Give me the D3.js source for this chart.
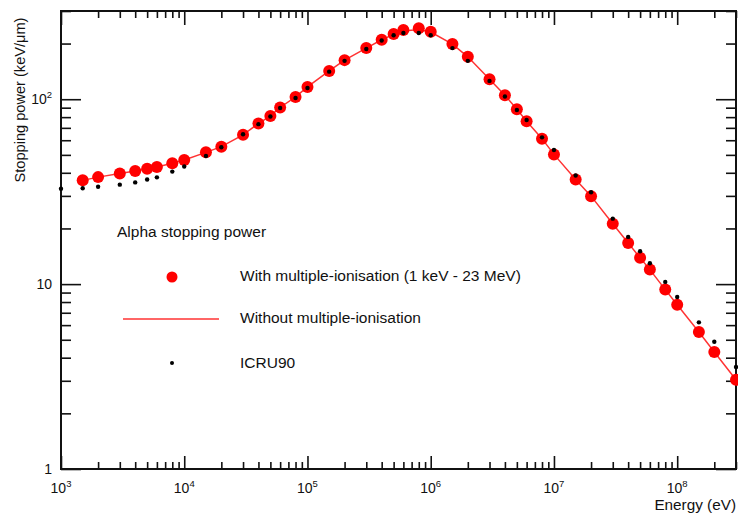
<!DOCTYPE html>
<html><head><meta charset="utf-8">
<script src="https://cdn.jsdelivr.net/npm/d3@7"></script>
<style>
body{margin:0;background:#fff;}
text{font-family:"Liberation Sans",Arial,Helvetica,sans-serif;fill:#111;}
</style></head>
<body><svg id="c" width="738" height="516"></svg>
<script>
// ---- data ----
const energies = [1.5e3,2e3,3e3,4e3,5e3,6e3,8e3,1e4,1.5e4,2e4,3e4,4e4,5e4,6e4,8e4,1e5,1.5e5,2e5,3e5,4e5,5e5,6e5,8e5,1e6,1.5e6,2e6,3e6,4e6,5e6,6e6,8e6,1e7,1.5e7,2e7,3e7,4e7,5e7,6e7,8e7,1e8,1.5e8,2e8,3e8];
const withMI = [36.4,37.9,39.6,40.9,42.1,43.0,45.0,46.9,51.6,55.4,64.2,73.9,81.2,90.2,102.9,116.6,142.3,162.7,189,209.6,225,237,242,232,198.7,169.6,128.3,105.1,88.3,76.0,61.2,50.3,36.8,29.9,21.2,16.7,13.87,11.98,9.34,7.74,5.51,4.29,3.04];
const withoutMI = [36.4,37.9,39.6,40.9,42.1,43.0,45.0,46.9,51.6,55.4,64.2,73.9,81.2,90.2,102.9,116.6,142.3,162.7,189,209.6,224,234,238,231,198.7,169.6,128.3,105.1,88.3,76.0,61.2,50.3,36.8,29.9,21.2,16.7,13.87,11.98,9.34,7.74,5.51,4.29,3.04];
const icruEnergies = [1e3,1.5e3,2e3,3e3,4e3,5e3,6e3,8e3,1e4,1.5e4,2e4,3e4,4e4,5e4,6e4,8e4,1e5,1.5e5,2e5,3e5,4e5,5e5,6e5,8e5,1e6,1.5e6,2e6,3e6,4e6,5e6,6e6,8e6,1e7,1.5e7,2e7,3e7,4e7,5e7,6e7,8e7,1e8,1.5e8,2e8,3e8];
const icru90 = [32.8,33.0,33.6,34.5,35.5,36.8,37.8,40.6,43.3,49.3,55.0,64.6,73.3,80.6,89.6,101.6,115,141,161.3,187,207.6,222,228,228,222,189,161.3,125.6,103.4,87.5,77.2,62.2,53.1,38.7,31.4,22.6,18.0,15.06,12.96,10.28,8.52,6.21,4.88,3.56];
const xMajorTicks = [1e3,1e4,1e5,1e6,1e7,1e8];
const xTickExps = ["3","4","5","6","7","8"];
const yMajorTicks = [1,10,100];
const yTickBase = ["1","10","10"];
const yTickExps = ["","","2"];
const legendTitle = "Alpha stopping power";
const legendLabels = ["With multiple-ionisation (1 keV - 23 MeV)","Without multiple-ionisation","ICRU90"];
const xTitle = "Energy (eV)";
const yTitle = "Stopping power (keV/\u03bcm)";

// ---- layout ----
const L=61,R=736,T=11,B=469;
const svg=d3.select("#c");
const x=d3.scaleLog().domain([1e3,3e8]).range([L,R]);
const y=d3.scaleLog().domain([1,300]).range([B,T]);

const minorX=[];for(let d=1e3;d<3e8;d*=10)for(let k=2;k<=9;k++){if(d*k<=3e8)minorX.push(d*k);}
const minorY=[];for(let d=1;d<300;d*=10)for(let k=2;k<=9;k++){if(d*k<=300)minorY.push(d*k);}

function axis(gen,vals,size,tr){
  const g=svg.append("g").attr("transform",tr).call(gen.tickValues(vals).tickSize(size).tickFormat(""));
  g.select(".domain").remove();
  g.selectAll("line").attr("stroke","#111").attr("stroke-width",1.6);
  return g;
}
axis(d3.axisBottom(x),xMajorTicks,-13,`translate(0,${B})`);
axis(d3.axisBottom(x),minorX,-7,`translate(0,${B})`);
axis(d3.axisTop(x),xMajorTicks,-14,`translate(0,${T})`);
axis(d3.axisTop(x),minorX,-7,`translate(0,${T})`);
axis(d3.axisLeft(y),yMajorTicks,-20,`translate(${L},0)`);
axis(d3.axisLeft(y),minorY,-10,`translate(${L},0)`);
axis(d3.axisRight(y),yMajorTicks,-20,`translate(${R},0)`);
axis(d3.axisRight(y),minorY,-10,`translate(${R},0)`);

svg.append("rect").attr("x",L).attr("y",T).attr("width",R-L).attr("height",B-T)
  .attr("fill","none").attr("stroke","#111").attr("stroke-width",2);

// tick labels
xMajorTicks.forEach((v,i)=>{
  const t=svg.append("text").attr("x",x(v)).attr("y",493).attr("text-anchor","middle").attr("font-size",14);
  t.append("tspan").text("10");
  t.append("tspan").attr("font-size",9.5).attr("dy",-6).text(xTickExps[i]);
});
yMajorTicks.forEach((v,i)=>{
  const t=svg.append("text").attr("x",52).attr("y",y(v)+5).attr("text-anchor","end").attr("font-size",14);
  t.append("tspan").text(yTickBase[i]);
  if(yTickExps[i]) t.append("tspan").attr("font-size",9.5).attr("dy",-6).text(yTickExps[i]);
});

svg.append("text").attr("x",736).attr("y",510).attr("text-anchor","end").attr("font-size",15.3).text(xTitle);
svg.append("text").attr("transform","translate(25,100) rotate(-90)").attr("text-anchor","middle").attr("font-size",14.6).text(yTitle);

// series
const line=d3.line().x((d,i)=>x(energies[i])).y(d=>y(d));
svg.append("path").datum(withoutMI).attr("d",line).attr("fill","none").attr("stroke","#ff3333").attr("stroke-width",1.5);
svg.append("g").selectAll("circle").data(withMI).join("circle")
  .attr("cx",(d,i)=>x(energies[i])).attr("cy",d=>y(d)).attr("r",6).attr("fill","#ff0000");
svg.append("g").selectAll("circle").data(icru90).join("circle")
  .attr("cx",(d,i)=>x(icruEnergies[i])).attr("cy",d=>y(d)).attr("r",2.2).attr("fill","#000");

// legend
svg.append("text").attr("x",117).attr("y",237).attr("font-size",15.5).text(legendTitle);
svg.append("circle").attr("cx",172).attr("cy",277).attr("r",5.5).attr("fill","#ff0000");
svg.append("line").attr("x1",123).attr("x2",219).attr("y1",319).attr("y2",319).attr("stroke","#ff3333").attr("stroke-width",1.5);
svg.append("circle").attr("cx",172).attr("cy",363).attr("r",2).attr("fill","#000");
[281,323,368].forEach((yy,i)=>svg.append("text").attr("x",240).attr("y",yy).attr("font-size",15.5).text(legendLabels[i]));
</script></body></html>
